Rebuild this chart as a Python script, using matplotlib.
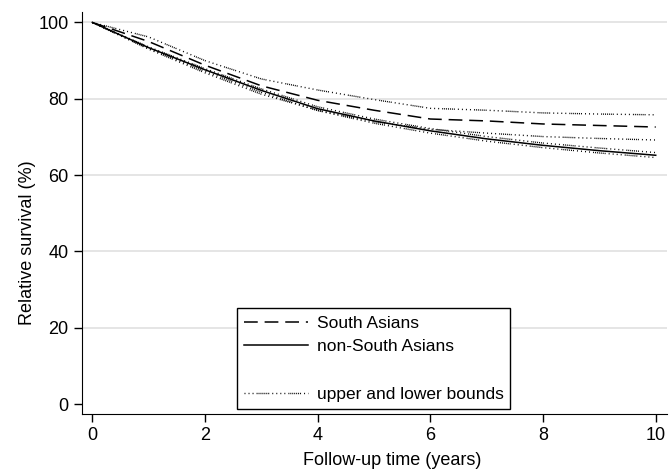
import numpy as np
import matplotlib
matplotlib.use('Agg')
from matplotlib import pyplot as plt
from matplotlib.lines import Line2D

plt.rcParams['font.family'] = ['Liberation Sans', 'DejaVu Sans']

# follow-up years
years = [0, 1, 2, 3, 4, 5, 6, 7, 8, 9, 10]

# relative survival (%)
sa = [100, 95.0, 88.8, 83.4, 79.6, 77.0, 74.7, 74.2, 73.4, 73.0, 72.6]
sa_upper = [100, 96.2, 90.0, 85.2, 82.3, 79.8, 77.5, 77.0, 76.3, 76.0, 75.8]
sa_lower = [100, 93.0, 86.8, 81.2, 77.0, 74.0, 72.0, 71.0, 70.1, 69.6, 69.2]

non_sa = [100, 93.4, 87.6, 82.2, 77.4, 74.2, 71.6, 69.5, 67.8, 66.4, 65.2]
non_sa_upper = [100, 93.6, 87.9, 82.6, 77.9, 74.7, 72.2, 70.1, 68.4, 67.1, 65.9]
non_sa_lower = [100, 93.2, 87.2, 81.7, 76.9, 73.6, 71.0, 68.9, 67.2, 65.8, 64.6]

xticks = [0, 2, 4, 6, 8, 10]
yticks = [0, 20, 40, 60, 80, 100]

dotpat = (0, (0.7, 2.2, 0.7, 2.2, 0.7, 2.2, 0.7, 0.7, 0.7, 0.7, 0.7, 0.7,
              0.7, 0.7, 0.7, 0.7, 0.7, 0.7, 0.7, 2.2, 0.7, 2.2))

fig = plt.figure(figsize=(6.69, 4.71), dpi=100)
ax = fig.add_axes([0.122, 0.121, 0.875, 0.854])

for y in yticks[1:]:
    ax.axhline(y, color='#dedede', lw=1.1, zorder=0)

ax.plot(years, sa_upper, color='black', lw=1.0, linestyle=dotpat)
ax.plot(years, sa_lower, color='black', lw=1.0, linestyle=dotpat)
ax.plot(years, non_sa_upper, color='black', lw=1.0, linestyle=dotpat)
ax.plot(years, non_sa_lower, color='black', lw=1.0, linestyle=dotpat)
ax.plot(years, sa, color='black', lw=1.1, dashes=(9, 4.5))
ax.plot(years, non_sa, color='black', lw=1.1)

ax.set_xlim(-0.19, 10.2)
ax.set_ylim(-2.6, 102.8)
ax.set_xticks(xticks)
ax.set_yticks(yticks)
ax.tick_params(axis='both', labelsize=13, length=6, width=1, color='black')
ax.spines['top'].set_visible(False)
ax.spines['right'].set_visible(False)
ax.set_xlabel('Follow-up time (years)', fontsize=13, labelpad=2)
ax.set_ylabel('Relative survival (%)', fontsize=13, labelpad=6)
ax.xaxis.set_label_coords(0.531, -0.095)
ax.yaxis.set_label_coords(-0.078, 0.427)

handles = [
    Line2D([], [], color='black', lw=1.1, dashes=(9, 4.5)),
    Line2D([], [], color='black', lw=1.1),
    Line2D([], [], color='none'),
    Line2D([], [], color='black', lw=1.0, linestyle=dotpat),
]
labels = ['South Asians', 'non-South Asians', ' ', 'upper and lower bounds']
leg = fig.legend(handles, labels, loc='lower left',
                 bbox_to_anchor=(0.354, 0.1316, 0.408, 0.2174), mode='expand',
                 borderaxespad=0, fontsize=12.5, handlelength=3.7,
                 handletextpad=0.52, labelspacing=0.49, borderpad=0.42,
                 frameon=True, fancybox=False, edgecolor='black',
                 framealpha=1)
leg.get_frame().set_linewidth(1)

fig.savefig('out.png', dpi=100)
